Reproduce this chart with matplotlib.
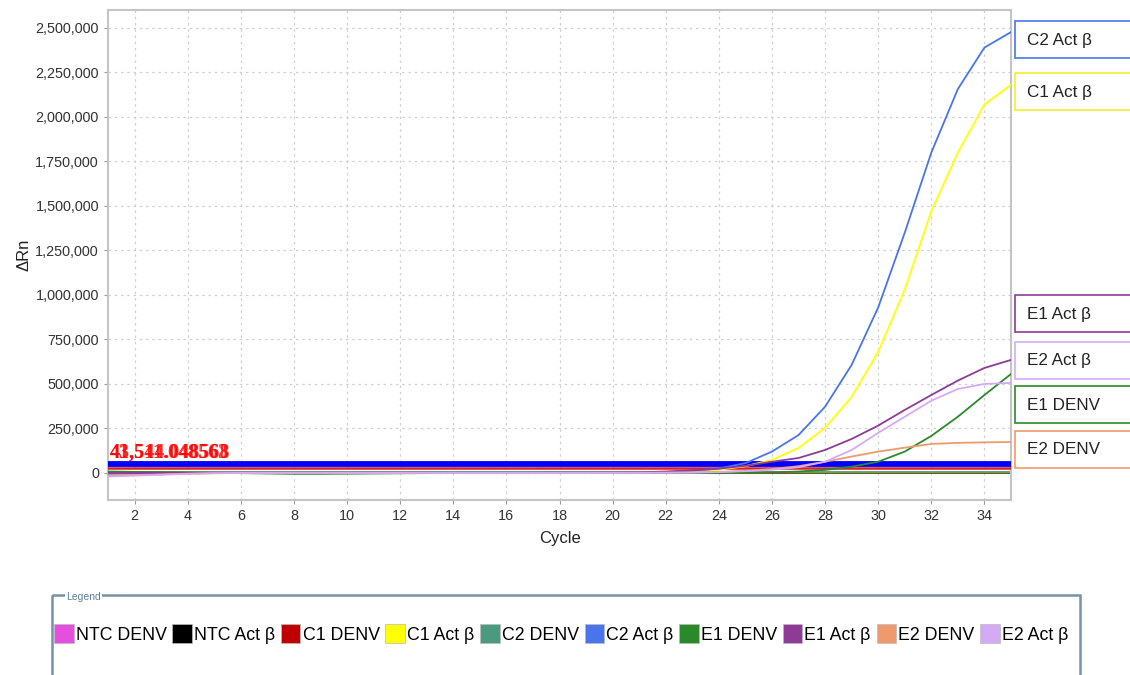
import numpy as np
import matplotlib.pyplot as plt
from matplotlib.patches import Rectangle, Patch

plt.rcParams['font.family'] = ['Liberation Sans', 'DejaVu Sans']

# amplification data, cycles 1..35
cycles = list(range(1, 36))

ntc_denv = [3000, 3000, 2500, 2500, 2000, 2000, 2000, 1500, 1500, 1500, 1500, 1500, 1500, 1500, 1500, 1500, 1500, 1500,
            1500, 1500, 1500, 1500, 1500, 1500, 1500, 1500, 1500, 1500, 1500, 1500, 1500, 1500, 1500, 1500, 1500]
ntc_act = [4000, 4000, 3500, 3500, 3500, 3500, 3500, 3500, 3500, 3500, 3500, 3500, 3500, 3500, 3500, 3500, 3500, 3500,
           3500, 3500, 3500, 3500, 3500, 3500, 3500, 3500, 3500, 3500, 3500, 3500, 3500, 3500, 3500, 3500, 3500]
c1_denv = [2000, 2000, 2000, 2000, 2000, 2000, 2000, 2000, 2000, 2000, 2000, 2000, 2000, 2000, 2000, 2000, 2000, 2000,
           2000, 2000, 2000, 2000, 2000, 2000, 2000, 2000, 2000, 2000, 2000, 2000, 2000, 2000, 2000, 2000, 2000]
c1_act = [-15000, -10000, -6000, -3000, -1000, 0, 0, 0, 0, 0, 0, 0, 0, 0, 0, 0, 0, 500, 1000, 1500, 2000,
          3000, 8000, 18000, 38000, 73000, 140000, 253000, 427000, 680000, 1030000, 1470000, 1800000, 2070000, 2180000]
c2_denv = [5000, 5000, 4000, 4000, 3000, 3000, 3000, 3000, 3000, 3000, 3000, 3000, 3000, 3000, 3000, 3000, 3000, 3000,
           3000, 3000, 3000, 3000, 3000, 3000, 3000, 3000, 3000, 3000, 3000, 3000, 3000, 3000, 3000, 3000, 3000]
c2_act = [-5000, -3000, -2000, -1000, 0, 0, 0, 0, 0, 0, 0, 0, 0, 0, 0, 500, 500, 1000, 1000, 1500, 2000,
          5000, 12000, 25000, 55000, 120000, 213000, 372000, 607000, 930000, 1350000, 1800000, 2157000, 2390000, 2477000]
e1_denv = [8000, 6000, 4000, 2000, 0, -1000, -3000, -5000, -5000, -4000, -3000, -2000, -1000, 0, 0, 0, 0, 0,
           0, 0, 0, 0, 0, 0, 1000, 3000, 8000, 17000, 35000, 63000, 120000, 208000, 316000, 438000, 556000]
e1_act = [0, 0, 0, 0, 0, 0, 0, 0, 0, 0, 0, 0, 0, 0, 0, 0, 500, 1000, 1500, 2000, 3000,
          8000, 15000, 24000, 40000, 63000, 84000, 129000, 191000, 266000, 354000, 438000, 519000, 590000, 635000]
e2_denv = [-15000, -12000, -8000, -4000, -1000, 0, 0, 0, 0, 0, 0, 0, 0, 0, 0, 0, 0, 0, 0, 500, 1000,
           2000, 3000, 5000, 12000, 22000, 38000, 63000, 92000, 120000, 142000, 163000, 169000, 172000, 174000]
e2_act = [-20000, -15000, -10000, -5000, -2000, 0, 0, 0, 0, 0, 0, 0, 0, 0, 0, 0, 0, 0, 0, 0, 500,
          1000, 2000, 5000, 10000, 18000, 32000, 63000, 129000, 225000, 316000, 406000, 472000, 500000, 506000]

names = ['NTC DENV', 'NTC Act β', 'C1 DENV', 'C1 Act β', 'C2 DENV',
         'C2 Act β', 'E1 DENV', 'E1 Act β', 'E2 DENV', 'E2 Act β']
series = [ntc_denv, ntc_act, c1_denv, c1_act, c2_denv, c2_act, e1_denv, e1_act, e2_denv, e2_act]
colors = ['#e64ee0', '#000000', '#c00000', '#ffff00', '#4a9a80',
          '#4a74ea', '#2a8a2a', '#8e3a96', '#ee9a6c', '#d4aaf6']

thresholds = [50000, 26000]
threshold_colors = ['#0000ff', '#dd2020']
threshold_text = ['43,544.048568', '41,511.048563']

fig = plt.figure(figsize=(11.3, 6.75), dpi=100)
ax = fig.add_axes([108 / 1130, 1 - 500 / 675, 903 / 1130, 490 / 675])

# flat traces first, then the thick threshold lines, then the rising traces
for s, c in zip([ntc_denv, ntc_act, c1_denv, c2_denv], ['#e64ee0', '#3030a0', '#c00000', '#30c040']):
    ax.plot(cycles, s, color=c, lw=1.2, zorder=2)
ax.axhline(thresholds[0], color=threshold_colors[0], lw=4.2, zorder=3)
ax.axhline(thresholds[1], color=threshold_colors[1], lw=1.8, zorder=3)
for i in [3, 5, 6, 7, 8, 9]:
    ax.plot(cycles, series[i], color=colors[i], lw=1.3, zorder=4)

for t in threshold_text:
    ax.text(1.05, 58000, t, color='red', fontsize=14.5, fontweight='bold',
            family='Liberation Serif', va='bottom', ha='left', zorder=5, alpha=0.85)

ax.set_xlim(1, 35)
ax.set_ylim(-152000, 2601000)
ax.set_xticks(range(2, 35, 2))
ax.set_yticks(range(0, 2500001, 250000))
ax.yaxis.set_major_formatter(plt.FuncFormatter(lambda v, p: f'{int(v):,}'))
ax.grid(True, color='#d0d0d0', linestyle=(0, (2, 3)), lw=0.9)
ax.tick_params(labelsize=10.4, colors='#333333', length=3, width=0.8)
ax.tick_params(axis='both', color='#999999')
for sp in ax.spines.values():
    sp.set_color('#c4c4c4')
    sp.set_linewidth(1.5)
ax.set_xlabel('Cycle', fontsize=12, color='#222222', labelpad=6)
ax.set_ylabel('ΔRn', fontsize=12, color='#222222', labelpad=3)

# overlay in pixel coordinates for the side labels and legend frame
ov = fig.add_axes([0, 0, 1, 1], zorder=-1)
ov.set_xlim(0, 1130)
ov.set_ylim(675, 0)
ov.axis('off')
ov.patch.set_alpha(0)

side_labels = ['C2 Act β', 'C1 Act β', 'E1 Act β', 'E2 Act β', 'E1 DENV', 'E2 DENV']
side_colors = ['#4a74ea', '#f0f030', '#8e3a96', '#d4aaf6', '#2a8a2a', '#ee9a6c']
side_tops = [21, 73, 295, 342, 386, 431]
for lab, c, top in zip(side_labels, side_colors, side_tops):
    ov.add_patch(Rectangle((1015, top), 140, 37, facecolor='white', edgecolor=c, lw=1.2))
    ov.text(1027, top + 19, lab, fontsize=12.3, color='#222222', va='center', ha='left')

# legend frame with embedded title
ov.add_patch(Rectangle((52, 595), 1028, 110, facecolor='none', edgecolor='#7890aa', lw=1.8))
ov.text(66, 597, 'Legend', fontsize=7.5, color='#6080a0', va='center', ha='left',
        bbox=dict(facecolor='white', edgecolor='none', pad=1))

handles = [Patch(facecolor=c, edgecolor='#bbbbbb', lw=0.5) for c in colors]
fig.legend(handles, names, loc='center left', bbox_to_anchor=(54 / 1130, 1 - 634 / 675),
           ncol=10, frameon=False, fontsize=12.8, handlelength=1.1, handleheight=1.2,
           handletextpad=0.12, columnspacing=0.32, borderpad=0, borderaxespad=0)

fig.savefig('out.png', dpi=100)
